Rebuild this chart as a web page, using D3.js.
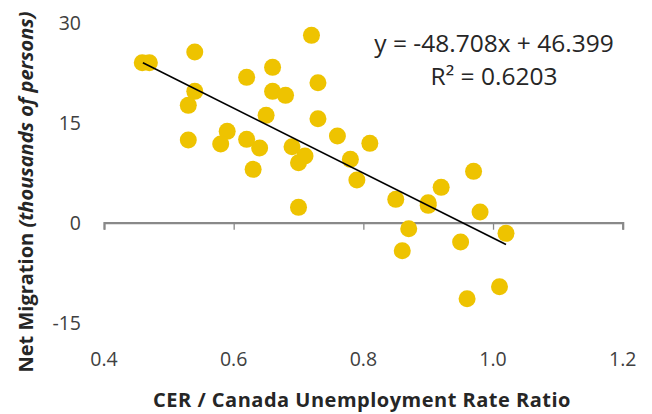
<!DOCTYPE html>
<html><head><meta charset="utf-8">
<script src="https://cdn.jsdelivr.net/npm/d3@7"></script>
<style>
html,body{margin:0;padding:0;background:#fff;}
svg text{font-family:"Open Sans",Lato,sans-serif;}
</style></head>
<body><svg id="c" width="652" height="414"></svg>
<script>
const ratio = [0.459,0.470,0.540,0.540,0.530,0.530,0.590,0.580,0.620,0.620,0.640,0.630,0.650,0.660,0.660,0.680,0.690,0.710,0.700,0.700,0.720,0.730,0.730,0.760,0.810,0.780,0.790,0.850,0.900,0.900,0.920,0.970,0.980,0.870,0.860,0.950,1.020,0.960,1.010];
const migration = [24.0,24.0,25.6,19.7,17.6,12.4,13.7,11.8,21.8,12.5,11.2,8.0,16.1,23.3,19.7,19.1,11.4,10.0,9.0,2.3,28.1,21.0,15.6,13.0,11.9,9.5,6.4,3.5,3.0,2.6,5.3,7.7,1.6,-0.9,-4.2,-2.9,-1.6,-11.4,-9.6];
const xTicks = [0.4,0.6,0.8,1.0,1.2];
const yTicks = [-15,0,15,30];
const slope = -48.708, intercept = 46.399, r2 = 0.6203;
const trendX = [0.46, 1.02];

const svg = d3.select("#c");
const x = d3.scaleLinear().domain([0.4,1.2]).range([104,622.7]);
const y = d3.scaleLinear().domain([-15,30]).range([322.7,22.7]);

const xAxis = d3.axisBottom(x).tickValues(xTicks).tickSize(7).tickFormat("");
const gx = svg.append("g").attr("transform",`translate(0,${y(0)})`).call(xAxis);
gx.select(".domain").attr("stroke","#898989").attr("stroke-width",2.2);
gx.selectAll(".tick line").attr("stroke","#898989").attr("stroke-width",1.3);

svg.append("g").selectAll("text").data(xTicks).join("text")
  .attr("x",d=>x(d)).attr("y",359).attr("dy","0.35em")
  .attr("text-anchor","middle").attr("fill","#404040").attr("font-size",19.5)
  .text(d=>d3.format(".1f")(d));

svg.append("g").selectAll("text").data(yTicks).join("text")
  .attr("x",81).attr("y",d=>y(d)).attr("dy","0.35em")
  .attr("text-anchor","end").attr("fill","#404040").attr("font-size",19.5)
  .text(d=>d);

svg.append("g").selectAll("circle").data(ratio.map((r,i)=>[r,migration[i]])).join("circle")
  .attr("cx",d=>x(d[0])).attr("cy",d=>y(d[1])).attr("r",8.5).attr("fill","#EEC300");

svg.append("path")
  .attr("d",d3.line().x(d=>x(d)).y(d=>y(slope*d+intercept))(trendX))
  .attr("stroke","#000").attr("stroke-width",1.6).attr("fill","none");

svg.append("text").attr("x",494).attr("y",43).attr("dy","0.35em").attr("text-anchor","middle")
  .attr("font-size",24.5).attr("fill","#262626").text(`y = ${slope}x + ${intercept}`);
svg.append("text").attr("x",494).attr("y",76).attr("dy","0.35em").attr("text-anchor","middle")
  .attr("font-size",24.5).attr("fill","#262626").text("R² = " + r2);

svg.append("text").attr("x",362).attr("y",400).attr("dy","0.35em").attr("text-anchor","middle")
  .attr("font-size",20).attr("letter-spacing",0.5).attr("font-weight","bold").attr("fill","#262626")
  .text("CER / Canada Unemployment Rate Ratio");
const yt = svg.append("text").attr("transform","translate(26,192) rotate(-90)")
  .attr("dy","0.35em").attr("text-anchor","middle")
  .attr("font-size",20).attr("font-weight","bold").attr("fill","#262626");
yt.append("tspan").text("Net Migration ");
yt.append("tspan").attr("font-style","italic").text("(thousands of persons)");
</script></body></html>
